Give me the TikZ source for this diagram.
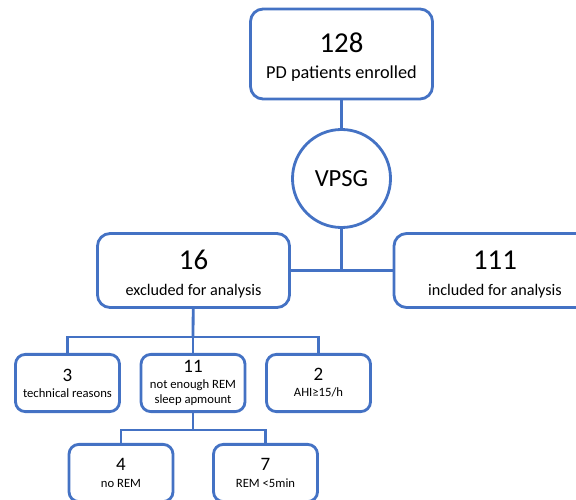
\documentclass[tikz,border=0pt]{standalone}
\usepackage{fontspec}
\setmainfont{Carlito}
\definecolor{blue1}{HTML}{4472C4}
\usetikzlibrary{positioning}
\newcommand\bignum[1]{{\fontsize{20.5}{22}\selectfont\rule{0pt}{19pt}#1}}
\newcommand\smallnum[1]{{\fontsize{13.5}{15}\selectfont#1}}

\begin{document}
\begin{tikzpicture}[
  x=0.025cm, y=-0.025cm,
  box/.style      = {draw=blue1, fill=white, line width=2pt, rounded corners=9pt,
                     align=center, inner sep=2pt, font=\fontsize{11.5}{18}\selectfont},
  bigbox/.style   = {box, minimum height=1.85cm},
  smallbox/.style = {box, rounded corners=7pt, minimum width=2.6cm, minimum height=1.43cm,
                     font=\fontsize{9}{10.5}\selectfont},
  round/.style    = {circle, draw=blue1, fill=white, line width=2pt, minimum size=2.45cm,
                     font=\fontsize{17.5}{20}\selectfont},
  link/.style     = {draw=blue1, line width=2pt}
]
\clip (0,0) rectangle (576,499);

% ── TOP ─────────────────────────────────────────────────
\node[box, minimum width=4.55cm, minimum height=2.25cm, font=\fontsize{13}{18.5}\selectfont]
      (enrolled) at (341.5,54) {\bignum{128}\\PD patients enrolled};
\node[round] (vpsg) at (341.5,178.5) {VPSG};

% ── SPLIT ───────────────────────────────────────────────
\node[bigbox, minimum width=4.8cm] (excluded) at (193.5,270.5)
      {\bignum{16}\\excluded for analysis};
\node[bigbox, minimum width=5.05cm] (included) at (495,270.5)
      {\bignum{111}\\included for analysis};

% ── REASONS ─────────────────────────────────────────────
\node[smallbox] (technical) at (67.5,383) {\smallnum{3}\\[1pt]technical reasons};
\node[smallbox] (lowrem)    at (193,383)  {\smallnum{11}\\[1pt]not enough REM\\sleep apmount};
\node[smallbox] (ahi)       at (318.5,383) {\smallnum{2}\\[1pt]AHI≥15/h};

\node[smallbox] (norem)     at (121,473)  {\smallnum{4}\\[1pt]no REM};
\node[smallbox] (shortrem)  at (265.5,473) {\smallnum{7}\\[1pt]REM <5min};

% ── LINKS ───────────────────────────────────────────────
\coordinate (fork1) at (193,337);
\coordinate (fork2) at (193,430);
\draw[link] (enrolled) -- (vpsg);
\draw[link] (excluded) -- (included);
\draw[link] (vpsg) -- (vpsg |- excluded);
\draw[link] (excluded) -- (fork1);
\draw[link] (fork1) -| (technical);
\draw[link] (fork1) -| (ahi);
\draw[link] (fork1) -- (lowrem);
\draw[link] (lowrem) -- (fork2);
\draw[link] (fork2) -| (norem);
\draw[link] (fork2) -| (shortrem);

\end{tikzpicture}
\end{document}
